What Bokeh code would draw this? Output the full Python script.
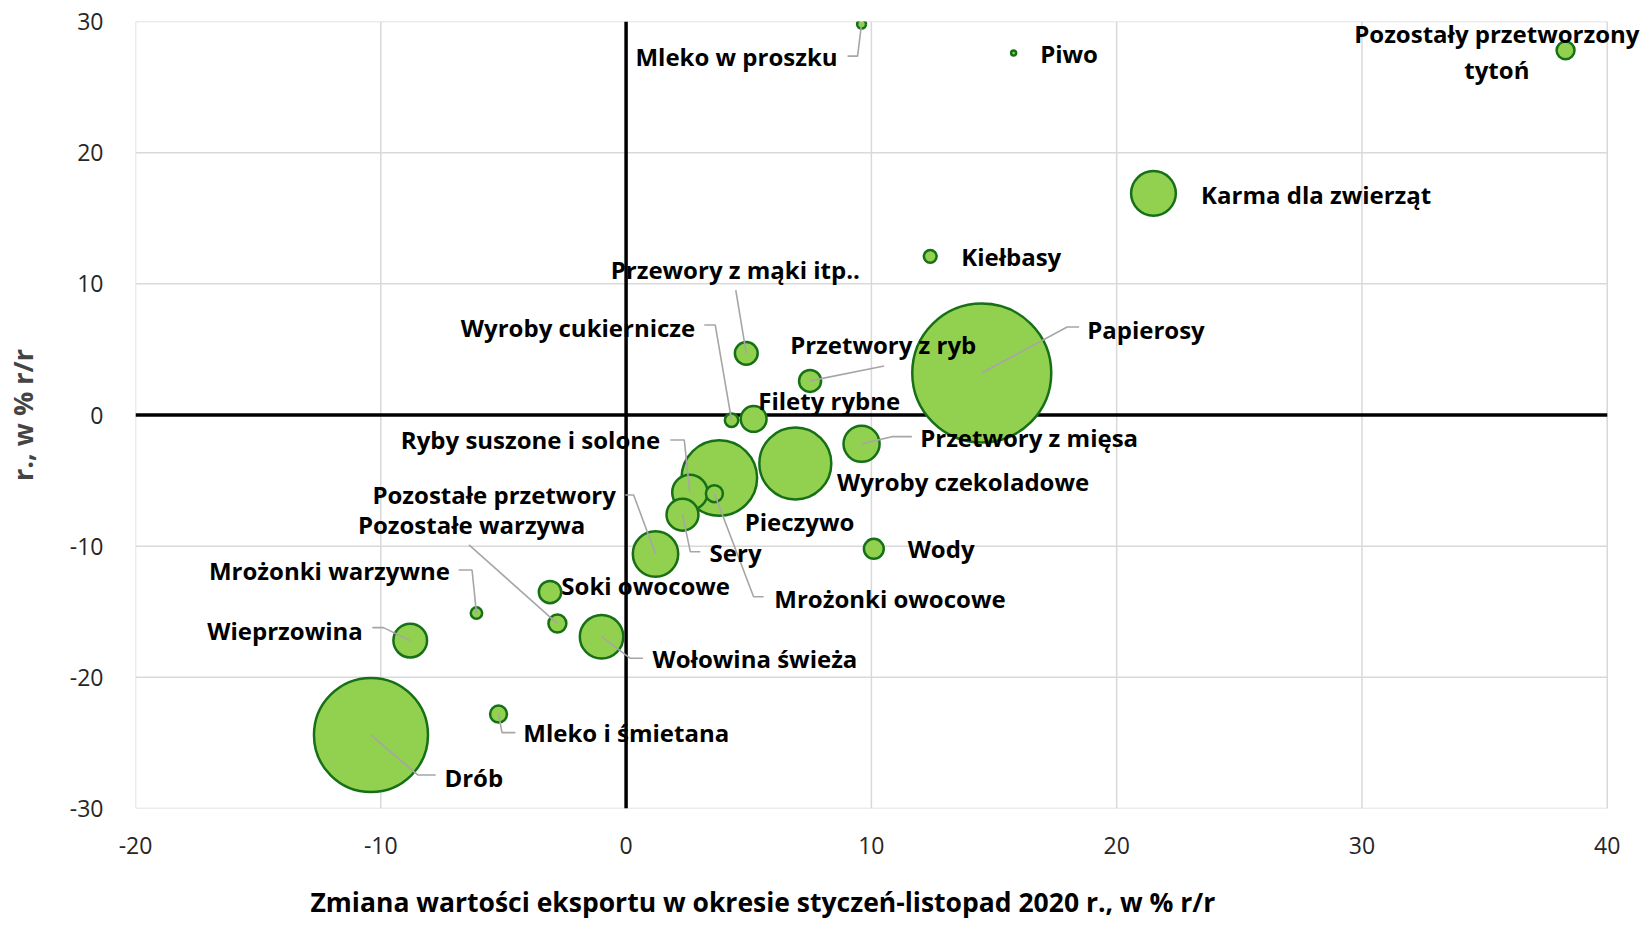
import math
from bokeh.plotting import figure
from bokeh.models import ColumnDataSource, LabelSet, FixedTicker, Range1d, Title
from bokeh.core.properties import value, field
from bokeh.embed import file_html
from bokeh.resources import INLINE

# ---------------- data ----------------
categories = [
    "Mleko w proszku", "Piwo", "Pozostały przetworzony\ntytoń", "Karma dla zwierząt",
    "Kiełbasy", "Papierosy", "Przewory z mąki itp..", "Wyroby cukiernicze",
    "Przetwory z ryb", "Filety rybne", "Przetwory z mięsa", "Wyroby czekoladowe",
    "Pieczywo", "Ryby suszone i solone", "Mrożonki owocowe", "Sery",
    "Pozostałe przetwory", "Wody", "Soki owocowe", "Mrożonki warzywne",
    "Pozostałe warzywa", "Wołowina świeża", "Wieprzowina", "Mleko i śmietana", "Drób",
]
export_change = [9.6, 15.8, 38.3, 21.5, 12.4, 14.5, 4.9, 4.3, 7.5, 5.2, 9.6, 6.9,
                 3.8, 2.6, 3.6, 2.3, 1.2, 10.1, -3.1, -6.1, -2.8, -1.0, -8.8, -5.2, -10.4]
y_change = [29.8, 27.6, 27.8, 16.9, 12.1, 3.2, 4.7, -0.4, 2.6, -0.3, -2.2, -3.7,
            -4.8, -5.9, -6.0, -7.6, -10.6, -10.2, -13.5, -15.1, -15.9, -16.9, -17.2, -22.8, -24.4]
bubble_weight = [0.6, 0.25, 2.0, 11.0, 1.1, 100.0, 3.1, 1.2, 2.9, 3.9, 7.3, 27.5,
                 30.3, 7.0, 1.8, 5.8, 11.3, 2.4, 3.0, 0.9, 2.0, 10.4, 6.4, 1.8, 67.7]
x_ticks = [-20, -10, 0, 10, 20, 30, 40]
x_tick_labels = ["-20", "-10", "0", "10", "20", "30", "40"]
y_ticks = [-30, -20, -10, 0, 10, 20, 30]
y_tick_labels = ["-30", "-20", "-10", "0", "10", "20", "30"]
x_title = "Zmiana wartości eksportu w okresie styczeń-listopad 2020 r., w % r/r"
y_title = "r., w % r/r"

# ---------------- layout (screen-pixel offsets, y down) ----------------
label_dx = [-24, 26.5, -68.7, 47.6, 31, 105.4, -11, -36.3, -19.9, 4.6, 58.6, 41.6,
            25.4, -29.6, 59.9, 27.1, -39.7, 33.8, 11.3, -26.5, 27.9, 51, -47.4, 24.8, 73.4]
label_dy = [32, 0.7, 1, 0.7, 0, -44, -84.3, -93.2, -35.9, -18.9, -5.9, 17.5,
            44, -52.4, 104.3, 38.3, -59.4, 0.2, -6.1, -42.1, -98.6, 21.9, -9.7, 18.9, 42.9]
label_align = ["right", "left", "center", "left", "left", "left", "center", "right",
               "left", "left", "left", "left", "left", "right", "left", "left",
               "right", "left", "left", "right", "right", "left", "right", "left", "left"]
leader_pts = [
    [(-14, 32), (-4, 32)], [], [], [], [], [(97.4, -46), (85.4, -46)], [(-10.5, -63.3)],
    [(-27.3, -95.2), (-16.3, -95.2)], [(74.1, -14.9)], [], [(50.3, -7.2), (30.3, -7.2)], [],
    [], [(-19.6, -52.4), (-5.6, -52.4)], [(49.2, 103), (39.2, 103)], [(17.8, 37), (7.8, 37)],
    [(-30.2, -59.1), (-21.9, -59.1)], [], [], [(-17.8, -43.1), (-4.4, -43.1)],
    [(-88.4, -78.6)], [(41.4, 21.6), (28.7, 21.6)], [(-37.9, -13), (-26.8, -13)],
    [(16.8, 18.6), (3.5, 18.6)], [(64.7, 39.9), (46.8, 39.9)],
]
LINE_SPACING = 35.4

FONT = "Open Sans"
GRID = "#d9d9d9"

kx = 1472 / (x_ticks[-1] - x_ticks[0])   # px per x unit
ky = 787 / (y_ticks[-1] - y_ticks[0])    # px per y unit
X_PAD = 1.6                               # extra room right of the plot area for overflowing label
FW = round(kx * (x_ticks[-1] + X_PAD - x_ticks[0]))
FH = 787

p = figure(frame_width=FW, frame_height=FH,
           x_range=Range1d(x_ticks[0], x_ticks[-1] + X_PAD), y_range=Range1d(y_ticks[0], y_ticks[-1]),
           output_backend="svg", toolbar_location=None,
           min_border_left=135, min_border_top=21, min_border_bottom=120, min_border_right=0)
p.background_fill_color = "white"
p.border_fill_color = "white"
p.outline_line_color = None
p.grid.visible = False

for ax, tks, tls in ((p.xaxis[0], x_ticks, x_tick_labels), (p.yaxis[0], y_ticks, y_tick_labels)):
    ax.axis_line_color = None
    ax.major_tick_line_color = None
    ax.minor_tick_line_color = None
    ax.major_label_text_font = FONT
    ax.major_label_text_font_size = "23px"
    ax.major_label_text_color = "#262626"
    ax.ticker = FixedTicker(ticks=tks)
    ax.major_label_overrides = {t: l for t, l in zip(tks, tls)}
p.xaxis[0].major_label_standoff = 22
p.yaxis[0].major_label_standoff = 26

p.yaxis[0].axis_label = y_title
p.yaxis[0].axis_label_text_font = FONT
p.yaxis[0].axis_label_text_font_style = "bold"
p.yaxis[0].axis_label_text_font_size = "27px"
p.yaxis[0].axis_label_standoff = 26

xt = Title(text=x_title, align="left", offset=175, text_font=FONT, text_font_style="bold",
           text_font_size="26.5px", standoff=51, text_color="black")
p.add_layout(xt, "below")

# gridlines (plot area limited to the tick range)
p.segment(x0=x_ticks, y0=[y_ticks[0]] * len(x_ticks), x1=x_ticks, y1=[y_ticks[-1]] * len(x_ticks),
          line_color=GRID, line_width=1.5)
p.segment(x0=[x_ticks[0]] * len(y_ticks), y0=y_ticks, x1=[x_ticks[-1]] * len(y_ticks), y1=y_ticks,
          line_color=GRID, line_width=1.5)
# zero axes
p.segment(x0=[0, x_ticks[0]], y0=[y_ticks[0], 0], x1=[0, x_ticks[-1]], y1=[y_ticks[-1], 0],
          line_color="black", line_width=3.5)

sizes = [141 * math.sqrt(w / 100.0) - 2 for w in bubble_weight]
src = ColumnDataSource(dict(x=export_change, y=y_change, s=sizes))
p.scatter("x", "y", size="s", source=src, fill_color="#92d050", line_color="#167016",
          line_width=2.5)

# leader lines
lx, ly = [], []
for xv, yv, pts in zip(export_change, y_change, leader_pts):
    if not pts:
        continue
    lx.append([xv + ox / kx for ox, oy in pts] + [xv])
    ly.append([yv - oy / ky for ox, oy in pts] + [yv])
p.multi_line(lx, ly, line_color="#a6a6a6", line_width=1.6)

# labels (multi-line names split into rows, each centred)
rx, ry, rt, rxo, ryo, ral = [], [], [], [], [], []
for xv, yv, name, dx, dy, al in zip(export_change, y_change, categories, label_dx, label_dy, label_align):
    lines = name.split("\n")
    n = len(lines)
    for i, ln in enumerate(lines):
        rx.append(xv); ry.append(yv); rt.append(ln)
        rxo.append(dx)
        ryo.append(-(dy + (i - (n - 1) / 2) * LINE_SPACING))
        ral.append(al)
lsrc = ColumnDataSource(dict(x=rx, y=ry, t=rt, xo=rxo, yo=ryo, al=ral))
p.add_layout(LabelSet(x="x", y="y", text="t", x_offset="xo", y_offset="yo", source=lsrc,
                      text_align=field("al"), text_baseline="middle",
                      text_font=value(FONT), text_font_style="bold",
                      text_font_size="24px", text_color="black"))

open("out.html", "w").write(file_html(p, INLINE))
